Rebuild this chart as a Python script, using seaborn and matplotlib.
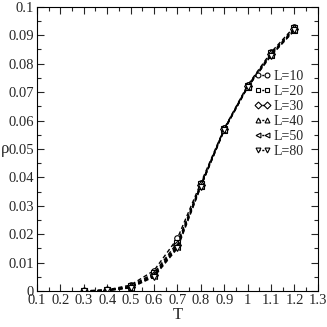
import matplotlib
matplotlib.use("Agg")
import matplotlib.pyplot as plt
from matplotlib.lines import Line2D
import numpy as np
import pandas as pd
import seaborn as sns

T = [0.3, 0.4, 0.5, 0.6, 0.7, 0.8, 0.9, 1.0, 1.1, 1.2]
sizes = ["L=10", "L=20", "L=30", "L=40", "L=50", "L=80"]
rho_L10 = [0.0001, 0.0004, 0.0021, 0.0072, 0.0185, 0.0380, 0.0572, 0.0724, 0.0840, 0.0930]
rho_L20 = [0.0000, 0.0003, 0.0017, 0.0063, 0.0170, 0.0375, 0.0570, 0.0722, 0.0836, 0.0925]
rho_L30 = [0.0000, 0.0003, 0.0015, 0.0058, 0.0163, 0.0372, 0.0569, 0.0720, 0.0833, 0.0922]
rho_L40 = [0.0000, 0.0002, 0.0013, 0.0055, 0.0158, 0.0370, 0.0568, 0.0719, 0.0831, 0.0920]
rho_L50 = [0.0000, 0.0002, 0.0012, 0.0053, 0.0155, 0.0369, 0.0567, 0.0718, 0.0830, 0.0919]
rho_L80 = [0.0000, 0.0002, 0.0011, 0.0050, 0.0150, 0.0367, 0.0566, 0.0717, 0.0828, 0.0917]
markers = ["o", "s", "D", "^", "<", "v"]

series = [rho_L10, rho_L20, rho_L30, rho_L40, rho_L50, rho_L80]
df = pd.concat([pd.DataFrame({"T": T, "rho": vals, "L": lab})
                for lab, vals in zip(sizes, series)], ignore_index=True)

sns.set_style("ticks")
plt.rcParams["font.family"] = ["Liberation Serif", "DejaVu Serif"]

fig = plt.figure(figsize=(3.27, 3.27), dpi=100)
ax = fig.add_axes([0.113, 0.110, 0.859, 0.869])

sns.lineplot(data=df, x="T", y="rho", hue="L", style="L",
             palette=["black"] * len(sizes),
             markers=dict(zip(sizes, markers)),
             dashes={s: (3, 2) for s in sizes},
             markersize=4, markerfacecolor="white", markeredgecolor="black",
             markeredgewidth=0.8, linewidth=1.0, legend=False, ax=ax)

ax.set_xlim(0.1, 1.3)
ax.set_ylim(0, 0.1)
ax.set_xticks(np.arange(0.1, 1.31, 0.1))
ax.set_xticklabels(["0.1", "0.2", "0.3", "0.4", "0.5", "0.6", "0.7", "0.8",
                    "0.9", "1", "1.1", "1.2", "1.3"])
ax.set_xticks(np.arange(0.15, 1.3, 0.1), minor=True)
ax.set_yticks(np.arange(0, 0.101, 0.01))
ax.set_yticklabels(["0", "0.01", "0.02", "0.03", "0.04", "0.05", "0.06",
                    "0.07", "0.08", "0.09", "0.1"])
ax.set_yticks(np.arange(0.005, 0.1, 0.01), minor=True)
ax.tick_params(which="both", direction="in", top=True, right=True,
               labelsize=10.5, pad=2, width=0.8)
ax.tick_params(which="major", length=5)
ax.tick_params(which="minor", length=3)
for sp in ax.spines.values():
    sp.set_linewidth(0.8)
    sp.set_color("black")

ax.set_xlabel("T", fontsize=12, labelpad=0)
ax.set_ylabel("ρ", fontsize=12, rotation=0, va="center", ha="left")
ax.yaxis.set_label_coords(-0.128, 0.5)

handles = [Line2D([], [], color="black", ls=(0, (1.5, 1.2)), lw=1.0, marker=m,
                  markersize=3.5, markerfacecolor="white",
                  markeredgecolor="black", markeredgewidth=0.8)
           for m in markers]
ax.legend(handles, sizes, loc="center right", bbox_to_anchor=(0.97, 0.623),
          frameon=False, fontsize=10, numpoints=2, handlelength=1.3,
          handletextpad=0.15, labelspacing=0.15, borderaxespad=0.0)

fig.savefig("out.png", dpi=100)
